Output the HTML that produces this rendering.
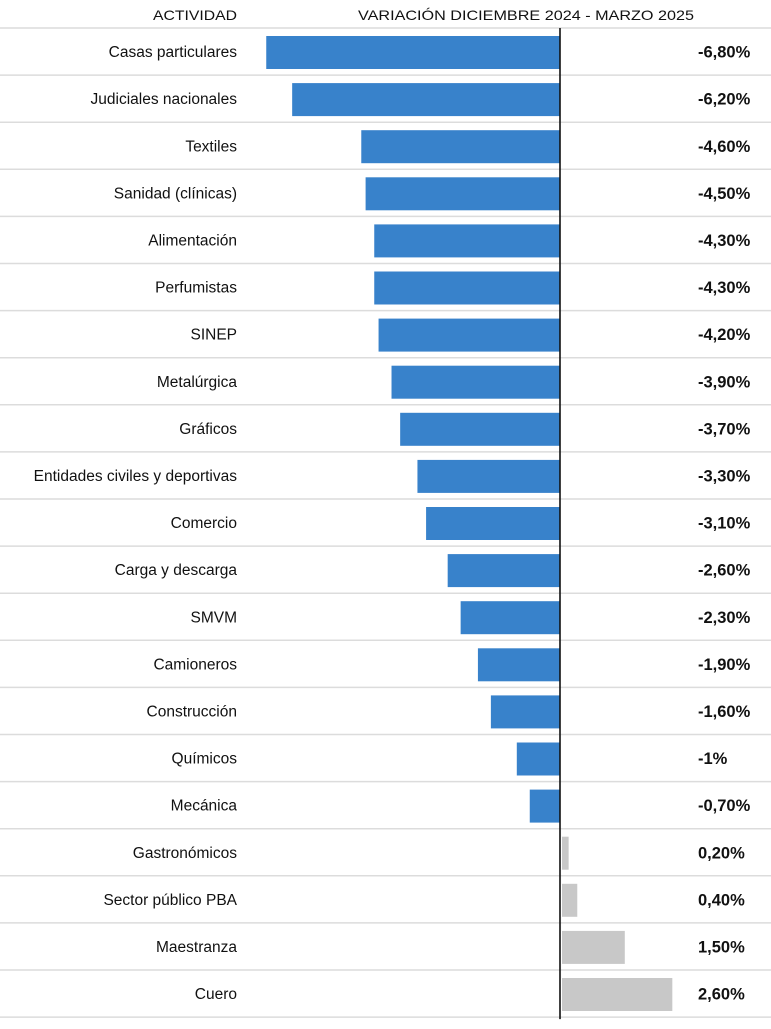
<!DOCTYPE html>
<html><head><meta charset="utf-8"><style>
body{margin:0;background:#fff;width:771px;height:1024px;overflow:hidden;font-family:"Liberation Sans",sans-serif;}
svg text{font-family:"Liberation Sans",sans-serif;}
</style></head><body>
<svg id="chart" width="771" height="1024" xmlns="http://www.w3.org/2000/svg">
<text x="237" y="20" text-anchor="end" font-size="14" fill="#111" textLength="84" lengthAdjust="spacingAndGlyphs">ACTIVIDAD</text>
<text x="358" y="20" font-size="14" fill="#111" textLength="336" lengthAdjust="spacingAndGlyphs">VARIACIÓN DICIEMBRE 2024 - MARZO 2025</text>
<g id="rows"></g>
</svg>
<script>
const categories=["Casas particulares","Judiciales nacionales","Textiles","Sanidad (clínicas)","Alimentación","Perfumistas","SINEP","Metalúrgica","Gráficos","Entidades civiles y deportivas","Comercio","Carga y descarga","SMVM","Camioneros","Construcción","Químicos","Mecánica","Gastronómicos","Sector público PBA","Maestranza","Cuero"];
const values=[-6.8,-6.2,-4.6,-4.5,-4.3,-4.3,-4.2,-3.9,-3.7,-3.3,-3.1,-2.6,-2.3,-1.9,-1.6,-1.0,-0.7,0.2,0.4,1.5,2.6];
const valueLabels=["-6,80%","-6,20%","-4,60%","-4,50%","-4,30%","-4,30%","-4,20%","-3,90%","-3,70%","-3,30%","-3,10%","-2,60%","-2,30%","-1,90%","-1,60%","-1%","-0,70%","0,20%","0,40%","1,50%","2,60%"];
const NS="http://www.w3.org/2000/svg";
const g=document.getElementById('rows');
const top0=28,rowH=47.1,zeroX=560,k=43.2;
const x=v=>zeroX+v*k;
function mk(t,a){const e=document.createElementNS(NS,t);for(const kk in a)e.setAttribute(kk,a[kk]);return e;}
for(let i=0;i<=categories.length;i++){
 const l=mk('line',{x1:0,x2:771,y1:top0+i*rowH,y2:top0+i*rowH,stroke:'#dcdcdc','stroke-width':1.5});
 
 
 g.appendChild(l);
}
categories.forEach((c,i)=>{
 const y0=top0+i*rowH, cy=y0+rowH/2;
 const v=values[i];
 const x1=v<0?x(v):zeroX+2, w=Math.abs(x(v)-zeroX)-(v<0?0:2);
 const r=mk('rect',{x:x1,y:y0+8,width:Math.max(w,1),height:33,fill:v<0?'#3882cb':'#c8c8c8'});
 
 
 g.appendChild(r);
 const t=mk('text',{x:237,y:cy+5.5,'text-anchor':'end','font-size':15.5,fill:'#111'});
 t.textContent=c;
 
 
 g.appendChild(t);
 const vt=mk('text',{x:698,y:cy+6,'font-size':16.5,'font-weight':'bold',fill:'#111'});
 vt.textContent=valueLabels[i];
 
 
 g.appendChild(vt);
});
const z=mk('line',{x1:zeroX,x2:zeroX,y1:top0,y2:top0+categories.length*rowH+2,stroke:'#111','stroke-width':1.6});


g.appendChild(z);
</script>
</body></html>
